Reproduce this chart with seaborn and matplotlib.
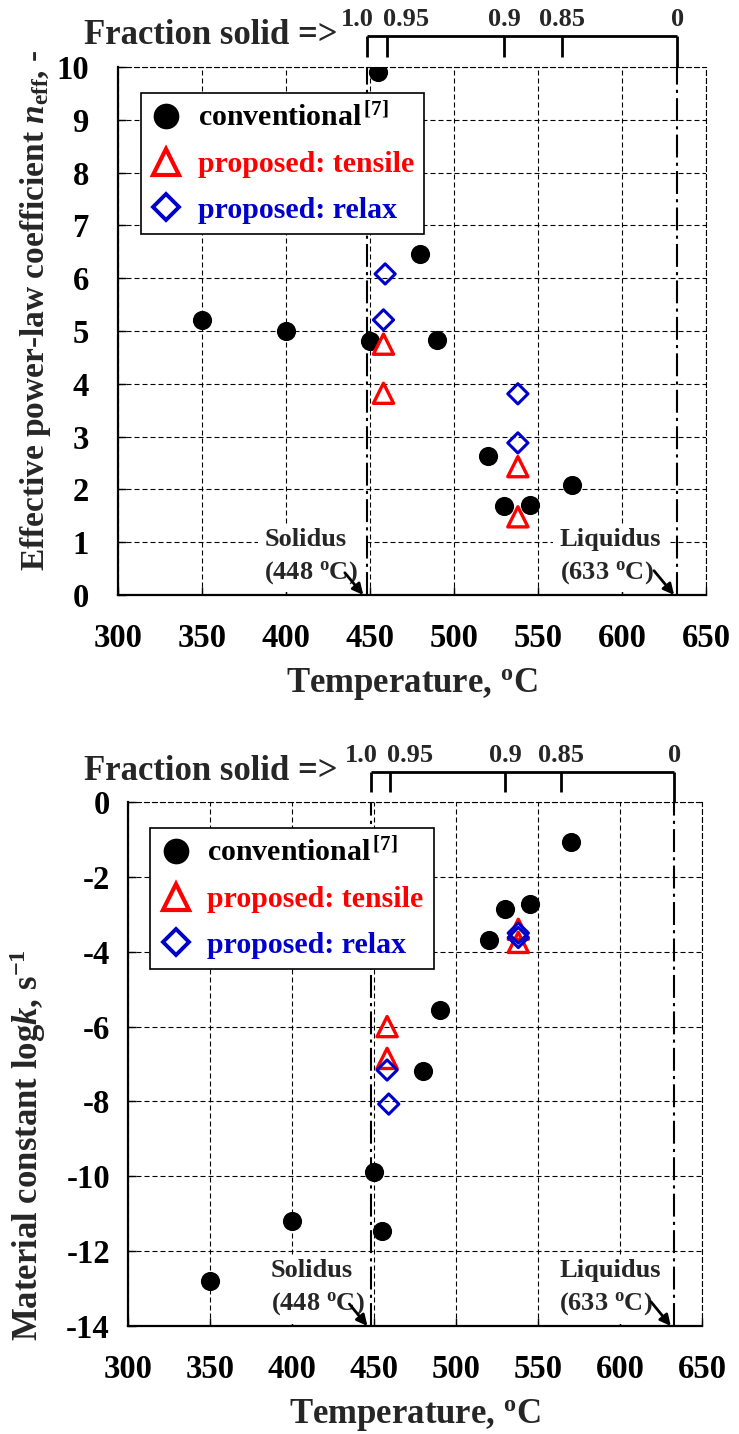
import matplotlib
matplotlib.use("Agg")
import seaborn as sns
import matplotlib.pyplot as plt
from matplotlib.lines import Line2D

# conventional data [7] (same specimens in both panels)
conv_temp = [350, 400, 450, 455, 480, 490, 520, 530, 545, 570]
conv_n = [5.21, 5.0, 4.81, 9.9, 6.45, 4.83, 2.63, 1.69, 1.70, 2.08]
conv_logk = [-12.8, -11.2, -9.89, -11.46, -7.19, -5.56, -3.69, -2.86, -2.73, -1.07]

# proposed: tensile
tens_temp = [458, 458, 538, 538]
tens_n = [4.75, 3.82, 2.43, 1.48]
tens_logk = [-6.85, -6.0, -3.4, -3.75]

# proposed: relax
relax_temp = [459, 458, 538, 538]
relax_n = [6.08, 5.21, 3.81, 2.88]
relax_logk = [-8.07, -7.16, -3.5, -3.62]

# fraction solid scale on top
fs_labels = ["1.0", "0.95", "0.9", "0.85", "0"]
fs_temp = [448, 460, 530, 564, 633]
solidus_temp = 448
liquidus_temp = 633

legend_labels = ["conventional$^{\\,[7]}$", "proposed: tensile", "proposed: relax"]
RED = "#FF0000"
BLUE = "#0000CC"

sns.set_style("white")
plt.rcParams["font.family"] = ["Liberation Serif", "DejaVu Serif"]
plt.rcParams["font.weight"] = "bold"
plt.rcParams["mathtext.fontset"] = "custom"
plt.rcParams["mathtext.rm"] = "Liberation Serif:bold"
plt.rcParams["mathtext.bf"] = "Liberation Serif:bold"
plt.rcParams["mathtext.it"] = "Liberation Serif:italic:bold"
plt.rcParams["axes.unicode_minus"] = False

fig = plt.figure(figsize=(7.39, 14.34), dpi=100)
ax1 = fig.add_axes([0.1597, 0.5851, 0.7957, 0.3682])
ax2 = fig.add_axes([0.1732, 0.0753, 0.7767, 0.3654])

GRID_LS = (0, (4.5, 2.7))
DASHDOT = (0, (11, 2.5, 1.5, 2.5))


def draw_panel(ax, y_conv, y_tens, y_relax, ylim, yticks, ylabel, ylab_xy, ypad):
    ax.set_xlim(300, 650)
    ax.set_ylim(*ylim)
    ax.set_xticks(range(300, 651, 50))
    ax.set_yticks(yticks)
    ax.set_axisbelow(True)
    ax.grid(True, color="black", linestyle=GRID_LS, linewidth=0.8)

    for side in ["left", "bottom"]:
        ax.spines[side].set_linewidth(1.6)
        ax.spines[side].set_color("black")
    for side in ["top", "right"]:
        ax.spines[side].set_linewidth(0.8)
        ax.spines[side].set_linestyle(GRID_LS)
        ax.spines[side].set_color("black")

    ax.tick_params(axis="both", direction="in", length=6, width=1, left=True,
                   bottom=True, labelsize=23.5, colors="black")
    ax.tick_params(axis="x", pad=20)
    ax.tick_params(axis="y", pad=ypad)
    for lab in ax.get_xticklabels() + ax.get_yticklabels():
        lab.set_fontweight("bold")

    # solidus / liquidus lines
    for t in [solidus_temp, liquidus_temp]:
        ax.axvline(t, color="black", lw=1.5, linestyle=DASHDOT, zorder=3)

    # data
    sns.scatterplot(x=conv_temp, y=y_conv, ax=ax, color="black", marker="o",
                    s=13.8 ** 2, linewidth=0, zorder=6)
    sns.scatterplot(x=tens_temp, y=y_tens, ax=ax, marker="^", s=14.5 ** 2,
                    facecolor="none", edgecolor=RED, linewidth=2.4, zorder=6)
    ax.collections[-1].set_facecolor("none")
    sns.scatterplot(x=relax_temp, y=y_relax, ax=ax, marker="D", s=10.3 ** 2,
                    facecolor="none", edgecolor=BLUE, linewidth=2.2, zorder=6)
    ax.collections[-1].set_facecolor("none")

    # legend
    handles = [
        Line2D([], [], marker="o", ls="none", color="black", markersize=18.5, mew=0),
        Line2D([], [], marker="^", ls="none", mfc="none", mec=RED, markersize=19, mew=3),
        Line2D([], [], marker="D", ls="none", mfc="none", mec=BLUE, markersize=13.2, mew=2.8),
    ]
    leg = ax.legend(handles, legend_labels, loc="upper left",
                    bbox_to_anchor=(0.039, 0.95), borderaxespad=0,
                    frameon=True, fancybox=False, framealpha=1,
                    handlelength=1.0, handletextpad=0.55, borderpad=0.35,
                    labelspacing=0.62, prop={"weight": "bold", "size": 21.5})
    leg.get_frame().set_edgecolor("black")
    leg.get_frame().set_linewidth(1.2)
    for txt, c in zip(leg.get_texts(), ["black", RED, BLUE]):
        txt.set_color(c)
    leg.set_zorder(10)

    # fraction solid bracket
    tr = ax.get_xaxis_transform()
    ax.plot([fs_temp[0], fs_temp[-1]], [1.058, 1.058], transform=tr,
            clip_on=False, color="black", lw=2, solid_capstyle="butt")
    for t, lab in zip(fs_temp, fs_labels):
        y_end = 1.0 if lab == "0" else 1.019
        ax.plot([t, t], [1.058, y_end], transform=tr, clip_on=False,
                color="black", lw=2, solid_capstyle="butt")
        if lab == "1.0":
            ha, dx = "right", 4
        elif lab == "0.95":
            ha, dx = "left", -2
        else:
            ha, dx = "center", 0
        ax.text(t + dx, 1.089, lab, transform=tr, ha=ha, va="center",
                fontsize=19, fontweight="bold")

    # solidus / liquidus notes (white box hides the grid, sits below spines)
    box = dict(boxstyle="square,pad=0.25", fc="white", ec="none")
    ax.text(387, 0.072, "Solidus\n(448 $^{\\mathrm{o}}$C)", transform=tr,
            ha="left", va="center", fontsize=19, fontweight="bold",
            linespacing=1.4, bbox=box, zorder=2)
    ax.text(563, 0.072, "Liquidus\n(633 $^{\\mathrm{o}}$C)", transform=tr,
            ha="left", va="center", fontsize=19, fontweight="bold",
            linespacing=1.4, bbox=box, zorder=2)
    arrow = dict(arrowstyle="-|>", color="black", lw=2, mutation_scale=16,
                 shrinkA=0, shrinkB=0)
    ax.annotate("", xy=(446, 0.0), xycoords=tr, xytext=(435, 0.042),
                textcoords=tr, arrowprops=arrow, zorder=5)
    ax.annotate("", xy=(631, 0.0), xycoords=tr, xytext=(619, 0.046),
                textcoords=tr, arrowprops=arrow, zorder=5)

    ax.set_xlabel("Temperature, $^{\\mathrm{o}}$C", fontsize=25,
                  fontweight="bold", labelpad=9)
    ax.set_ylabel(ylabel, fontsize=24, fontweight="bold")
    ax.yaxis.set_label_coords(*ylab_xy)


draw_panel(ax1, conv_n, tens_n, relax_n, (0, 10), range(0, 11, 1),
           "Effective power-law coefficient $n_{\\mathrm{eff}}$, -",
           (-0.11, 0.54), 21)
draw_panel(ax2, conv_logk, tens_logk, relax_logk, (-14, 0), range(-14, 1, 2),
           "Material constant log$k$, s$^{\\mathrm{-1}}$", (-0.14, 0.345), 13)
ax2.yaxis.label.set_fontsize(25)

fig.text(338 / 739, 1 - 36 / 1434, "Fraction solid =>", ha="right",
         va="center", fontsize=25, fontweight="bold")
fig.text(338 / 739, 1 - 771 / 1434, "Fraction solid =>", ha="right",
         va="center", fontsize=25, fontweight="bold")

fig.savefig("out.png", dpi=100, facecolor="white")
